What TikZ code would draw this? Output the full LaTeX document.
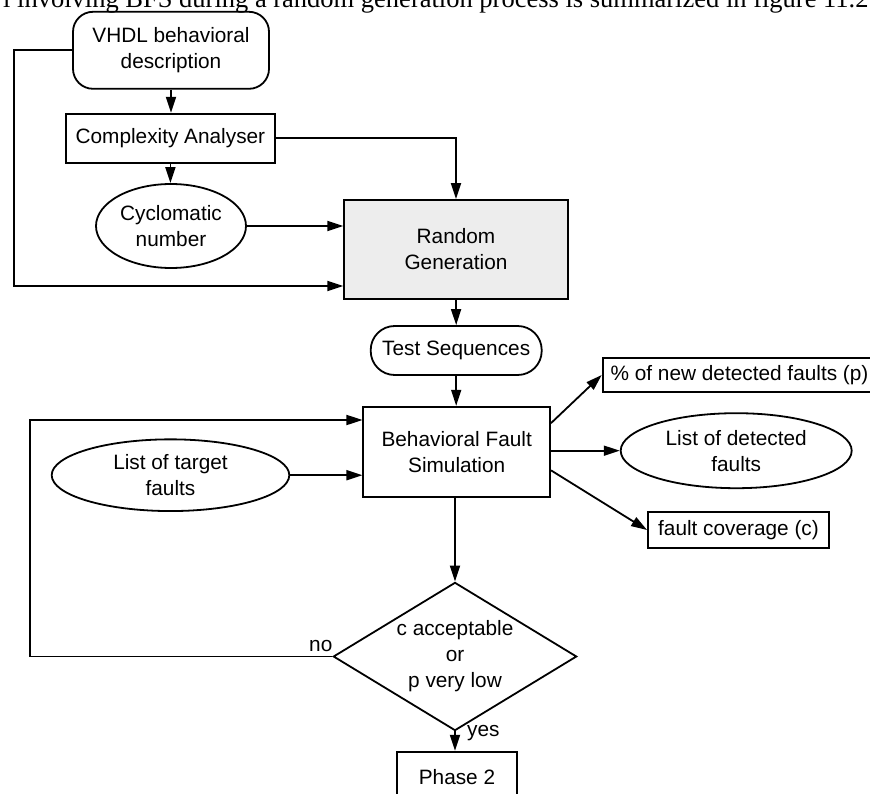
\documentclass[tikz,border=0pt]{standalone}
\usepackage{fontspec}
\setmainfont{Liberation Sans}
\newfontfamily\bodyserif{Liberation Serif}
\usetikzlibrary{arrows.meta,shapes.geometric}
\begin{document}
\begin{tikzpicture}[x=1pt,y=-1pt,
  base/.style={draw, line width=1.8pt, align=center, inner sep=0pt,
    font=\fontsize{20.8}{26}\selectfont},
  box/.style={base, rectangle},
  rbox/.style={base, rectangle, rounded corners=20pt},
  oval/.style={base, ellipse},
  choice/.style={base, diamond, inner sep=-10pt},
  note/.style={font=\fontsize{20.8}{26}\selectfont, inner sep=0pt},
  flow/.style={line width=1.8pt, -{Triangle[length=16pt,width=10pt]}},
]
\useasboundingbox (0,0) rectangle (870,794);
\clip (0,0) rectangle (870,794);

% running text of the page above the figure
\node[anchor=base west, inner sep=0pt, font=\bodyserif\fontsize{26.5}{30}\selectfont] (lead) at (3,7.5)
  {l involving BFS during a random generation process is summarized in figure 11.2};

% blocks
\node[rbox, minimum width=196pt, minimum height=77pt] (vhdl) at (171,50.3) {VHDL behavioral\\description};
\node[box, minimum width=209pt, minimum height=49pt] (cplx) at (170.4,138.3) {Complexity Analyser};
\node[oval, minimum width=150pt, minimum height=84pt] (cyc) at (171,226) {Cyclomatic\\number};
\node[box, fill=gray!14, minimum width=223.4pt, minimum height=99pt] (rg) at (456,249.5) {Random\\Generation};
\node[rbox, rounded corners=24pt, minimum width=171pt, minimum height=49pt] (ts) at (456.2,350.5) {Test Sequences};
\node[box, minimum width=186.7pt, minimum height=90.6pt] (bfs) at (456.7,452) {Behavioral Fault\\Simulation};
\node[box, anchor=west, inner xsep=8pt, minimum height=34.6pt] (pnew) at (601.7,375) {\% of new detected faults (p)};
\node[oval, minimum width=231pt, minimum height=75pt] (det) at (736.2,450.7) {List of detected\\faults};
\node[box, minimum width=181pt, minimum height=36pt] (fc) at (738.5,530) {fault coverage (c)};
\node[oval, minimum width=237.6pt, minimum height=71.7pt] (tgt) at (170.5,475.2) {List of target\\faults};
\node[choice, minimum width=243.4pt, minimum height=144.5pt] (dec) at (455,656.5) {c acceptable\\or\\p very low};
\node[box, minimum width=120.6pt, minimum height=50pt] (ph2) at (457,776.7) {Phase 2};
\node[note, anchor=west] (no) at (309,646.5) {no};
\node[note, anchor=west] (yes) at (467,733) {yes};

% connectors
\coordinate (lbend) at (14,286);
\coordinate (loop) at (30,420);
\draw[flow] (vhdl.south) -- (vhdl.south |- cplx.north);
\draw[flow] (cplx.south) -- (cplx.south |- cyc.north);
\draw[flow] (cplx.east) -| (rg.north);
\draw[flow] (cyc.east) -- (cyc.east -| rg.west);
\draw[flow] (vhdl.west) -| (lbend) -- (lbend -| rg.west);
\draw[flow] (rg.south) -- (ts.north);
\draw[flow] (ts.south) -- (ts.south |- bfs.north);
\draw[flow] (bfs.17) -- (pnew.west);
\draw[flow] (bfs.east |- det.west) -- (det.west);
\draw[flow] (bfs.-11) -- (fc.west);
\draw[flow] (tgt.east) -- (tgt.east -| bfs.west);
\draw[flow] (dec.west) -| (loop) -- (loop -| bfs.west);
\draw[flow] (dec.north |- bfs.south) -- (dec.north);
\draw[flow] (dec.south) -- (dec.south |- ph2.north);
\end{tikzpicture}
\end{document}
